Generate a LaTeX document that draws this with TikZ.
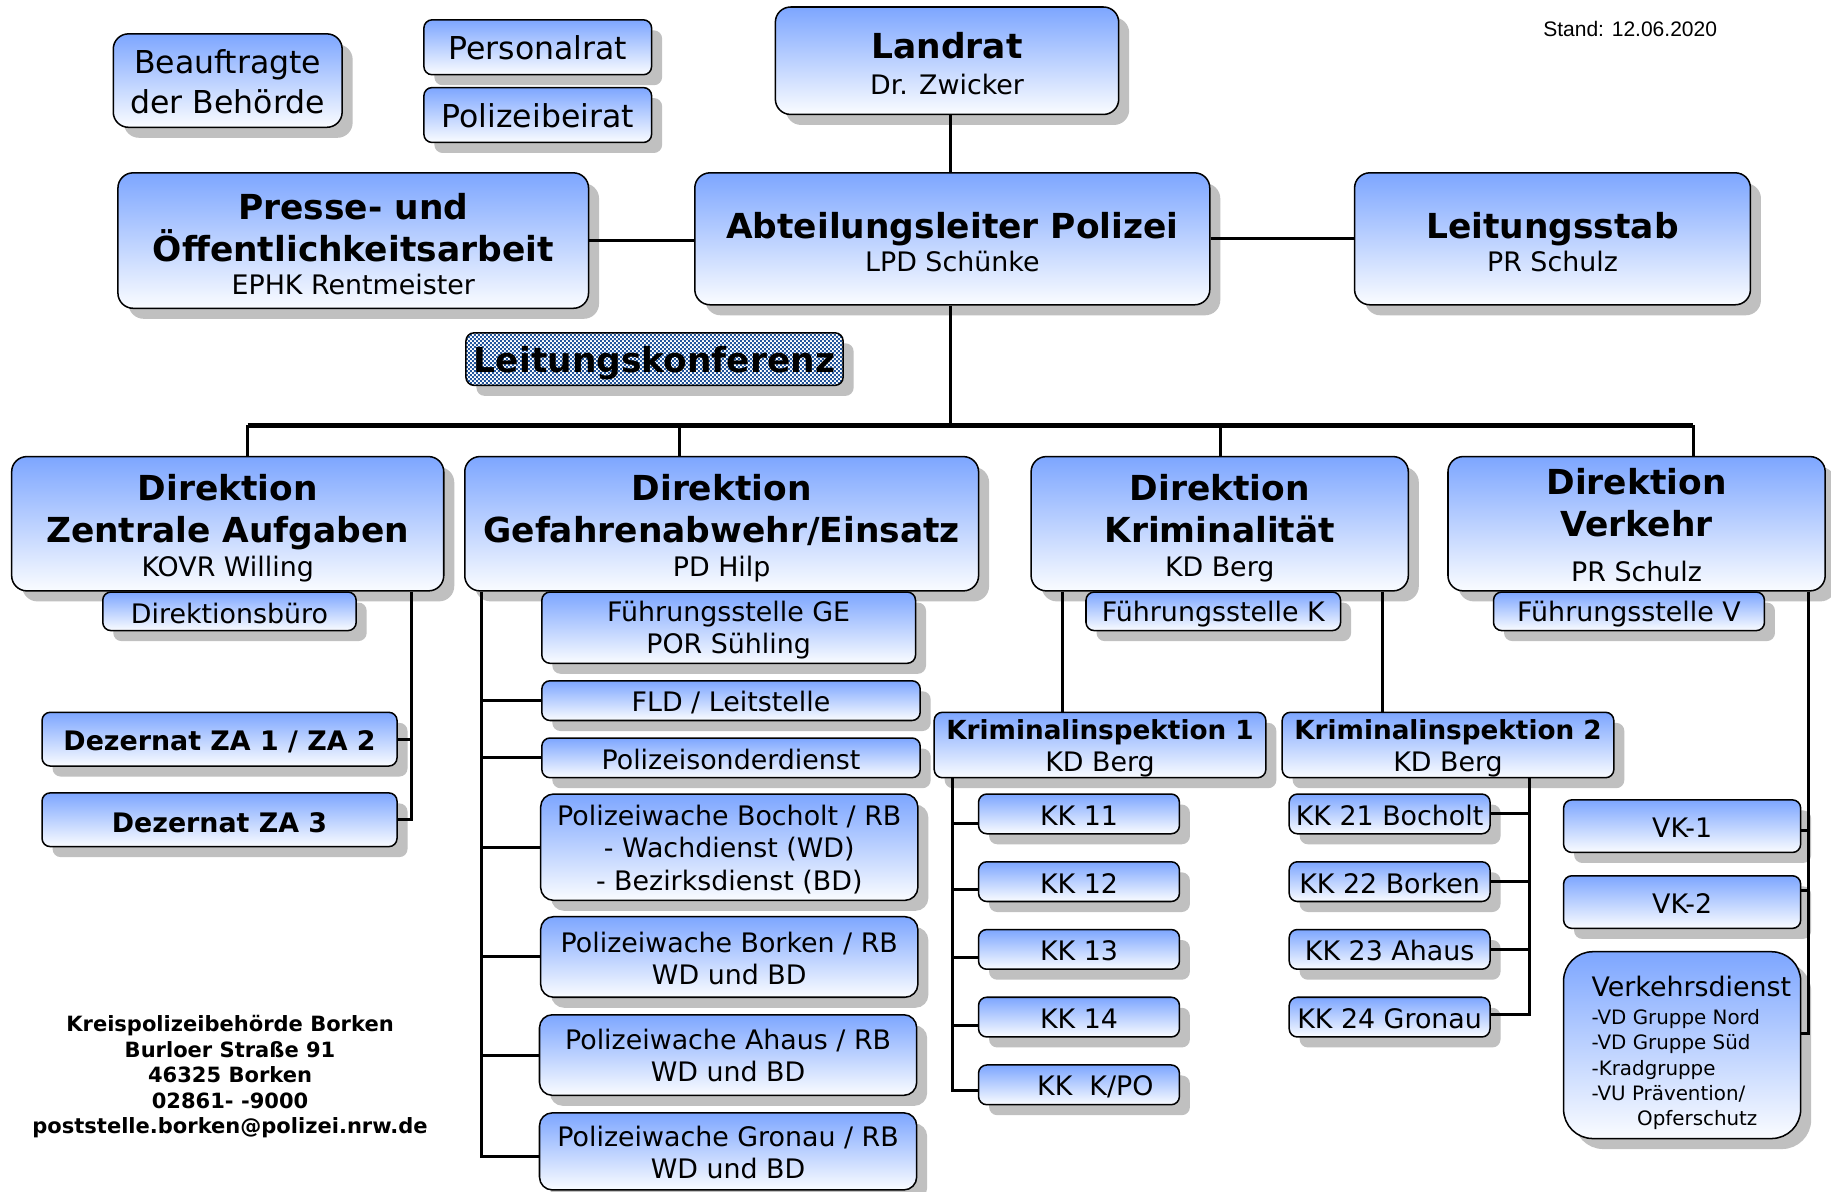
\documentclass[tikz,border=0pt]{standalone}
\usepackage{fontspec}
\setmainfont{DejaVu Sans}
\newfontfamily\standfont{Liberation Sans}
\usetikzlibrary{shadows,patterns}
\pgfdeclarepatternformonly{finechk}{\pgfpointorigin}{\pgfqpoint{3.4pt}{3.4pt}}{\pgfqpoint{3.4pt}{3.4pt}}{%
  \pgfpathrectangle{\pgfpointorigin}{\pgfqpoint{1.7pt}{1.7pt}}%
  \pgfpathrectangle{\pgfqpoint{1.7pt}{1.7pt}}{\pgfqpoint{1.7pt}{1.7pt}}%
  \pgfusepath{fill}}
\definecolor{boxtop}{RGB}{125,166,255}
\definecolor{boxbot}{RGB}{250,252,255}
\definecolor{shgray}{RGB}{192,192,192}
\definecolor{chkblue}{RGB}{35,85,155}
\newcommand\ftitle{\fontsize{29.5}{36}\selectfont\bfseries}
\newcommand\fsubt{\fontsize{23}{27.5}\selectfont\mdseries}
\newcommand\fbig{\fontsize{27}{34}\selectfont}
\newcommand\fsmb{\fontsize{23}{27}\selectfont\bfseries}
\newcommand\fkib{\fontsize{22.5}{27}\selectfont\bfseries}
\newcommand\fvd{\fontsize{17}{21.7}\selectfont}
\newcommand\faddr{\fontsize{18}{21.75}\selectfont\bfseries}
\begin{document}
\begin{tikzpicture}[x=1pt,y=-1pt,
  box/.style={draw=black,line width=1.3pt,rounded corners=13pt,top color=boxtop,bottom color=boxbot,
    drop shadow={shadow xshift=9pt,shadow yshift=-9pt,fill=shgray,opacity=1},inner sep=0pt,align=flush center},
  sbox/.style={box,rounded corners=7pt},
  wbox/.style={box,rounded corners=11pt},
  kbox/.style={draw=black,line width=1.3pt,rounded corners=7pt,
    drop shadow={shadow xshift=9pt,shadow yshift=-9pt,fill=shgray,opacity=1},
    preaction={fill=white},pattern=finechk,pattern color=chkblue,inner sep=0pt,align=flush center},
  tsh/.style={execute at begin node={\rule{0pt}{#1}}},
  conn/.style={line width=2.6pt},
  bus/.style={line width=4.2pt}]
\fill[white] (0,0) rectangle (1568,1020);
\useasboundingbox (0,0) rectangle (1568,1020);

% top level
\node[box,font=\fbig,minimum width=196pt,minimum height=80pt,text width=196pt] (beauf) at (195,69) {\rule{0pt}{22.5pt}Beauftragte\\der Behörde};
\node[sbox,tsh=21.5pt,font=\fbig,minimum width=195pt,minimum height=47pt] (persr) at (460.5,40.5) {Personalrat};
\node[sbox,tsh=21.5pt,font=\fbig,minimum width=195pt,minimum height=47pt] (pbeir) at (460.5,98.5) {Polizeibeirat};
\node[box,font=\ftitle,minimum width=294pt,minimum height=92pt,text width=294pt] (landrat) at (811,52) {\rule{0pt}{27pt}Landrat\\[-5.5pt]{\fsubt Dr. Zwicker}};
\node[box,font=\ftitle,minimum width=403pt,minimum height=116pt,text width=403pt] (presse) at (302.5,206) {\rule{0pt}{28.5pt}Presse- und\\Öffentlichkeitsarbeit\\[-7pt]{\fsubt EPHK Rentmeister}};
\node[box,font=\ftitle,minimum width=441pt,minimum height=113pt,text width=441pt] (abt) at (815.5,204.5) {\rule{0pt}{28.5pt}Abteilungsleiter Polizei\\[-8pt]{\fsubt LPD Schünke}};
\node[box,font=\ftitle,minimum width=339pt,minimum height=113pt,text width=339pt] (lstab) at (1329.5,204.5) {\rule{0pt}{28.5pt}Leitungsstab\\[-8pt]{\fsubt PR Schulz}};
\node[kbox,tsh=28.5pt,font=\ftitle,minimum width=323pt,minimum height=45pt] (lkonf) at (560.5,307.5) {Leitungskonferenz};
\node[font=\fontsize{18}{20}\standfont] (stand) at (1396,25) {Stand: 12.06.2020};

% Direktionen
\node[box,font=\ftitle,minimum width=370pt,minimum height=115pt,text width=370pt] (dza) at (195,448.5) {\rule{0pt}{29.5pt}Direktion\\Zentrale Aufgaben\\[-7pt]{\fsubt KOVR Willing}};
\node[box,font=\ftitle,minimum width=440pt,minimum height=115pt,text width=440pt] (dge) at (618,448.5) {\rule{0pt}{29.5pt}Direktion\\Gefahrenabwehr/Einsatz\\[-7pt]{\fsubt PD Hilp}};
\node[box,font=\ftitle,minimum width=323pt,minimum height=115pt,text width=323pt] (dk) at (1044.5,448.5) {\rule{0pt}{29.5pt}Direktion\\Kriminalität\\[-7pt]{\fsubt KD Berg}};
\node[box,font=\ftitle,minimum width=323pt,minimum height=115pt,text width=323pt] (dv) at (1401.5,448.5) {\rule{0pt}{25pt}Direktion\\Verkehr\\[2pt]{\fsubt PR Schulz}};

% ZA
\node[sbox,tsh=21.5pt,font=\fsubt,minimum width=217pt,minimum height=33pt] (dbuero) at (196.5,523.5) {Direktionsbüro};
\node[sbox,tsh=21.5pt,font=\fsmb,minimum width=304pt,minimum height=46pt] (dez12) at (188,633) {Dezernat ZA 1 / ZA 2};
\node[sbox,tsh=21.5pt,font=\fsmb,minimum width=304pt,minimum height=46pt] (dez3) at (188,702) {Dezernat ZA 3};

% GE
\node[sbox,font=\fsubt,minimum width=320pt,minimum height=61pt,text width=320pt] (fge) at (624,537.5) {\rule{0pt}{21.5pt}Führungsstelle GE\\POR Sühling};
\node[sbox,tsh=20.5pt,font=\fsubt,minimum width=324pt,minimum height=34pt] (fld) at (626,600) {FLD / Leitstelle};
\node[sbox,tsh=20.5pt,font=\fsubt,minimum width=324pt,minimum height=34pt] (psd) at (626,649) {Polizeisonderdienst};
\node[wbox,font=\fsubt,minimum width=323pt,minimum height=91pt,text width=323pt] (pwboc) at (624.5,725.5) {\rule{0pt}{21.5pt}Polizeiwache Bocholt / RB\\- Wachdienst (WD)\\- Bezirksdienst (BD)};
\node[wbox,font=\fsubt,minimum width=323pt,minimum height=69pt,text width=323pt] (pwbor) at (624.5,819.5) {\rule{0pt}{19.5pt}Polizeiwache Borken / RB\\WD und BD};
\node[wbox,font=\fsubt,minimum width=323pt,minimum height=69pt,text width=323pt] (pwaha) at (623.5,903.5) {Polizeiwache Ahaus / RB\\WD und BD};
\node[wbox,font=\fsubt,minimum width=323pt,minimum height=66pt,text width=323pt] (pwgro) at (623.5,986) {\rule{0pt}{19.5pt}Polizeiwache Gronau / RB\\WD und BD};

% K
\node[sbox,tsh=21.5pt,font=\fsubt,minimum width=218pt,minimum height=33pt] (fk) at (1039,523.5) {Führungsstelle K};
\node[sbox,font=\fkib,minimum width=284pt,minimum height=56pt,text width=284pt] (ki1) at (942,638) {\rule{0pt}{23pt}Kriminalinspektion 1\\{\fsubt KD Berg}};
\node[sbox,font=\fkib,minimum width=284pt,minimum height=56pt,text width=284pt] (ki2) at (1240,638) {\rule{0pt}{23pt}Kriminalinspektion 2\\{\fsubt KD Berg}};
\node[sbox,tsh=20pt,font=\fsubt,minimum width=172pt,minimum height=34pt] (kk11) at (924,697) {KK 11};
\node[sbox,tsh=20pt,font=\fsubt,minimum width=172pt,minimum height=34pt] (kk12) at (924,755) {KK 12};
\node[sbox,tsh=20pt,font=\fsubt,minimum width=172pt,minimum height=34pt] (kk13) at (924,813) {KK 13};
\node[sbox,tsh=20pt,font=\fsubt,minimum width=172pt,minimum height=34pt] (kk14) at (924,871) {KK 14};
\node[sbox,tsh=20pt,font=\fsubt,minimum width=172pt,minimum height=34pt] (kkpo) at (924,929) {\hspace*{28pt}KK~~K/PO};
\node[sbox,tsh=20pt,font=\fsubt,minimum width=172pt,minimum height=34pt] (kk21) at (1190,697) {KK 21 Bocholt};
\node[sbox,tsh=20pt,font=\fsubt,minimum width=172pt,minimum height=34pt] (kk22) at (1190,755) {KK 22 Borken};
\node[sbox,tsh=20pt,font=\fsubt,minimum width=172pt,minimum height=34pt] (kk23) at (1190,813) {KK 23 Ahaus};
\node[sbox,tsh=20pt,font=\fsubt,minimum width=172pt,minimum height=34pt] (kk24) at (1190,871) {KK 24 Gronau};

% V
\node[sbox,tsh=21.5pt,font=\fsubt,minimum width=232pt,minimum height=33pt] (fv) at (1395,523.5) {Führungsstelle V};
\node[sbox,tsh=20pt,font=\fsubt,minimum width=203pt,minimum height=45pt] (vk1) at (1440.5,707.5) {VK-1};
\node[sbox,tsh=20pt,font=\fsubt,minimum width=203pt,minimum height=45pt] (vk2) at (1440.5,772.5) {VK-2};
\node[box,rounded corners=25pt,font=\fvd,minimum width=203pt,minimum height=160pt,text width=155pt,align=flush left] (vd) at (1440.5,895)
  {\rule{0pt}{31.5pt}{\fsubt Verkehrsdienst}\\[2pt]-VD Gruppe Nord\\-VD Gruppe Süd\\-Kradgruppe\\-VU Prävention/\\\hspace*{39pt}Opferschutz};

% address
\node[font=\faddr,align=center] (addr) at (197,922) {Kreispolizeibehörde Borken\\Burloer Straße 91\\46325 Borken\\02861- -9000\\poststelle.borken@polizei.nrw.de};

% coordinates
\coordinate (ctr) at (814,364);
\coordinate (b1) at (212,364);
\coordinate (b2) at (582,364);
\coordinate (b3) at (1045,364);
\coordinate (b4) at (1450,364);
\coordinate (zaend) at (352,702);
\coordinate (geend) at (412,990);
\coordinate (kx1) at (910,610);
\coordinate (kx2) at (1184,610);
\coordinate (k1end) at (816,934);
\coordinate (k2end) at (1310,869);
\coordinate (vend) at (1549,885);

% connectors
\draw[conn] (landrat.south -| ctr) -- (abt.north -| ctr);
\draw[conn] (abt.south -| ctr) -- (ctr);
\draw[conn] (presse.east) -- (presse.east -| abt.west);
\draw[conn] (abt.east) -- (lstab.west);
\draw[bus] (b1) -- (b4);
\draw[conn] (b1) -- (b1 |- dza.north);
\draw[conn] (b2) -- (b2 |- dge.north);
\draw[conn] (b3) -- (b3 |- dk.north);
\draw[conn] (b4) -- (b4 |- dv.north);

\draw[conn] (dza.south -| zaend) -- (zaend) -- (dez3.east |- zaend);
\draw[conn] (dez12.east) -- (dez12.east -| zaend);

\draw[conn] (dge.south -| geend) -- (geend) -- (pwgro.west |- geend);
\draw[conn] (fld.west) -- (fld.west -| geend);
\draw[conn] (psd.west) -- (psd.west -| geend);
\draw[conn] (pwboc.west) -- (pwboc.west -| geend);
\draw[conn] (pwbor.west) -- (pwbor.west -| geend);
\draw[conn] (pwaha.west) -- (pwaha.west -| geend);

\draw[conn] (dk.south -| kx1) -- (ki1.north -| kx1);
\draw[conn] (dk.south -| kx2) -- (ki2.north -| kx2);

\draw[conn] (ki1.south -| k1end) -- (k1end) -- (kkpo.west |- k1end);
\draw[conn] ([yshift=-8pt]kk11.west) -- ([yshift=-8pt]kk11.west -| k1end);
\draw[conn] ([yshift=-7pt]kk12.west) -- ([yshift=-7pt]kk12.west -| k1end);
\draw[conn] ([yshift=-7pt]kk13.west) -- ([yshift=-7pt]kk13.west -| k1end);
\draw[conn] ([yshift=-7pt]kk14.west) -- ([yshift=-7pt]kk14.west -| k1end);

\draw[conn] (ki2.south -| k2end) -- (k2end) -- (kk24.east |- k2end);
\draw[conn] (kk21.east) -- (kk21.east -| k2end);
\draw[conn] (kk22.east) -- (kk22.east -| k2end);
\draw[conn] (kk23.east) -- (kk23.east -| k2end);

\draw[conn] (dv.south -| vend) -- (vend) -- (vd.east |- vend);
\draw[conn] ([yshift=-4pt]vk1.east) -- ([yshift=-4pt]vk1.east -| vend);
\draw[conn] ([yshift=10pt]vk2.east) -- ([yshift=10pt]vk2.east -| vend);
\end{tikzpicture}
\end{document}
